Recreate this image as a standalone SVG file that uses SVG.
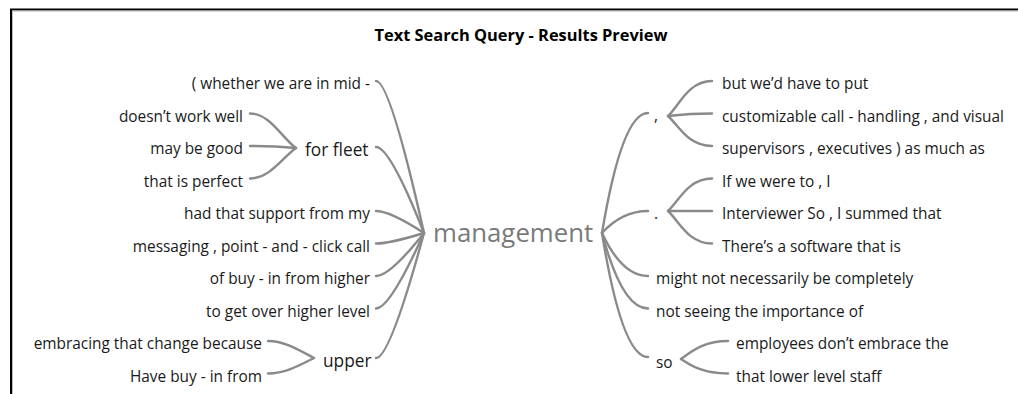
<svg xmlns="http://www.w3.org/2000/svg" width="1018" height="394" viewBox="0 0 1018 394">
<style>
.t{font-family:"Open Sans","Noto Sans",sans-serif;font-size:15.4px;fill:#1a1a1a}
.e{text-anchor:end}
.mid{font-size:17.3px}
.root{font-family:"Open Sans","Noto Sans",sans-serif;font-size:25.8px;fill:#7a7a7a}
.title{font-family:"Open Sans","Noto Sans",sans-serif;font-size:16.4px;font-weight:bold;fill:#000;text-anchor:middle}
.c path{fill:none;stroke:#8a8a8a;stroke-width:2.4;stroke-linecap:round}
</style>
<rect x="0" y="0" width="1018" height="394" fill="#fff"/>
<g id="frame">
<line x1="10" y1="9.5" x2="1018" y2="9.5" stroke="#000" stroke-width="2"/>
<line x1="12" y1="11" x2="1018" y2="11" stroke="#b0b0b0" stroke-width="1"/>
<line x1="11" y1="9" x2="11" y2="394" stroke="#000" stroke-width="2"/>
<line x1="12.5" y1="11" x2="12.5" y2="394" stroke="#c0c0c0" stroke-width="1"/>
</g>
<text class="title" x="521" y="41">Text Search Query - Results Preview</text>
<g class="c" id="connectors">
<path d="M376,81 Q390,81 424,233"/>
<path d="M376,147 Q390,147 424,233"/>
<path d="M376,211 Q390,211 424,233"/>
<path d="M376,243.5 Q390,243.5 424,233"/>
<path d="M376,276 Q390,276 424,233"/>
<path d="M376,308.5 Q390,308.5 424,233"/>
<path d="M376,358 Q390,358 424,233"/>
<path d="M250,113.5 C270,113.5 282,138 296,148"/>
<path d="M250,146 C267,146 285,147 296,148"/>
<path d="M250,178.5 C270,178.5 282,158 296,148"/>
<path d="M268,341 C286,341 302,352 314,358"/>
<path d="M268,373.5 C286,373.5 302,364 314,358"/>
<path d="M602,233 Q622,113 648,113"/>
<path d="M602,233 Q622,211 648,211"/>
<path d="M602,233 Q622,276 648,276"/>
<path d="M602,233 Q622,308.5 648,308.5"/>
<path d="M602,233 Q622,357 648,357"/>
<path d="M668,116 C679,106 688,81 712,81"/>
<path d="M668,116 C677,115 688,113.5 712,113.5"/>
<path d="M668,116 C679,126 688,146 712,146"/>
<path d="M668,211 C679,201 688,178.5 712,178.5"/>
<path d="M668,211 C677,211 688,211 712,211"/>
<path d="M668,211 C679,221 688,243.5 712,243.5"/>
<path d="M681,359 C690,353 702,341 728,341"/>
<path d="M681,359 C690,365 702,373.5 728,373.5"/>
</g>
<g id="n-root"><text class="root" x="433" y="242">management</text></g>
<g id="n-l1"><text class="t e" x="370" y="89">( whether we are in mid -</text></g>
<g id="n-fleet"><text class="t mid" x="305" y="156">for fleet</text></g>
<g id="n-l2"><text class="t e" x="243" y="121.5">doesn’t work well</text></g>
<g id="n-l3"><text class="t e" x="243" y="154">may be good</text></g>
<g id="n-l4"><text class="t e" x="243" y="186.5">that is perfect</text></g>
<g id="n-l5"><text class="t e" x="370" y="219">had that support from my</text></g>
<g id="n-l6"><text class="t e" x="370" y="251.5">messaging , point - and - click call</text></g>
<g id="n-l7"><text class="t e" x="370" y="284">of buy - in from higher</text></g>
<g id="n-l8"><text class="t e" x="370" y="316.5">to get over higher level</text></g>
<g id="n-upper"><text class="t mid" x="323" y="367">upper</text></g>
<g id="n-l9"><text class="t e" x="262" y="349">embracing that change because</text></g>
<g id="n-l10"><text class="t e" x="262" y="381.5">Have buy - in from</text></g>
<g id="n-comma"><text class="t" x="654" y="121">,</text></g>
<g id="n-r1"><text class="t" x="722" y="89">but we’d have to put</text></g>
<g id="n-r2"><text class="t" x="722" y="121.5">customizable call - handling , and visual</text></g>
<g id="n-r3"><text class="t" x="722" y="154">supervisors , executives ) as much as</text></g>
<g id="n-dot"><text class="t" x="654" y="219">.</text></g>
<g id="n-r4"><text class="t" x="722" y="186.5">If we were to , I</text></g>
<g id="n-r5"><text class="t" x="722" y="219">Interviewer So , I summed that</text></g>
<g id="n-r6"><text class="t" x="722" y="251.5">There’s a software that is</text></g>
<g id="n-r7"><text class="t" x="656" y="284">might not necessarily be completely</text></g>
<g id="n-r8"><text class="t" x="656" y="316.5">not seeing the importance of</text></g>
<g id="n-so"><text class="t" x="656" y="368">so</text></g>
<g id="n-r9"><text class="t" x="736" y="349">employees don’t embrace the</text></g>
<g id="n-r10"><text class="t" x="736" y="381.5">that lower level staff</text></g>
</svg>
